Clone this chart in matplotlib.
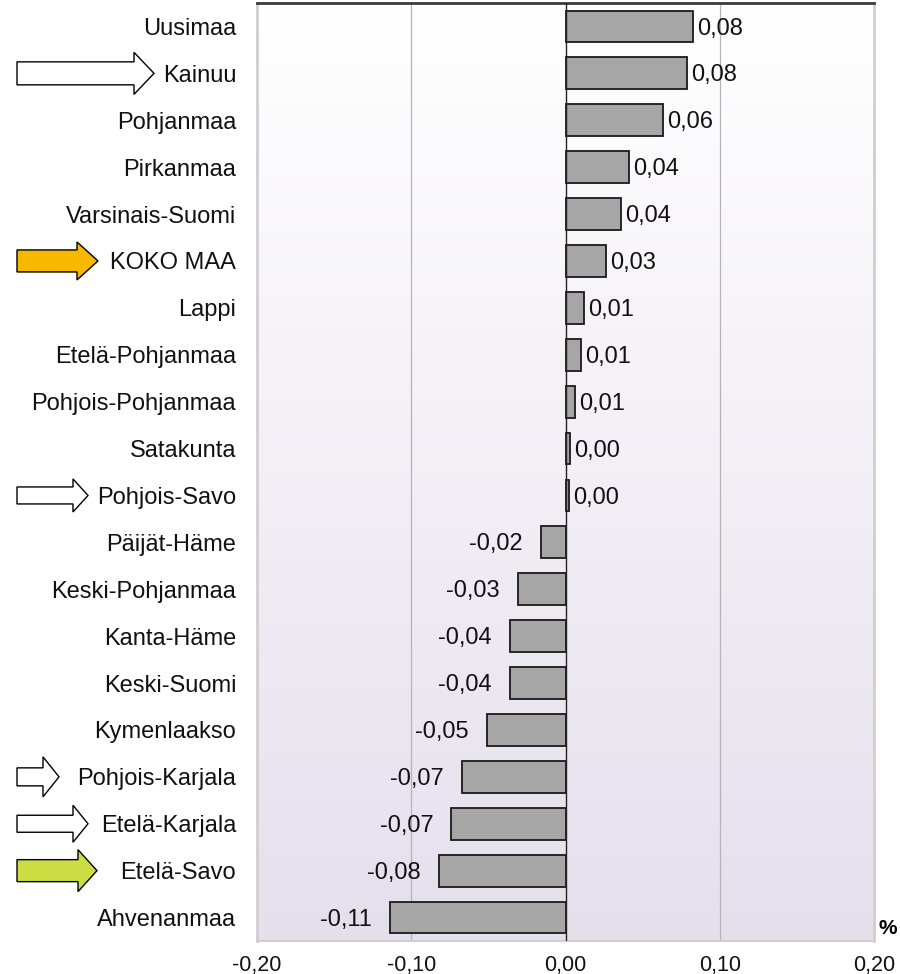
import numpy as np
import matplotlib
matplotlib.use("Agg")
import matplotlib.pyplot as plt
from matplotlib.patches import Polygon

plt.rcParams['font.family'] = ['Liberation Sans', 'DejaVu Sans']

regions = ["Uusimaa", "Kainuu", "Pohjanmaa", "Pirkanmaa", "Varsinais-Suomi",
           "KOKO MAA", "Lappi", "Etelä-Pohjanmaa", "Pohjois-Pohjanmaa", "Satakunta",
           "Pohjois-Savo", "Päijät-Häme", "Keski-Pohjanmaa", "Kanta-Häme", "Keski-Suomi",
           "Kymenlaakso", "Pohjois-Karjala", "Etelä-Karjala", "Etelä-Savo", "Ahvenanmaa"]
values = [0.0825, 0.079, 0.063, 0.041, 0.036,
          0.026, 0.012, 0.010, 0.006, 0.003,
          0.0025, -0.016, -0.031, -0.036, -0.036,
          -0.051, -0.067, -0.074, -0.082, -0.114]
xticks = [-0.20, -0.10, 0.00, 0.10, 0.20]
xtick_labels = ["-0,20", "-0,10", "0,00", "0,10", "0,20"]
# arrows: region -> fill colour
arrow_regions = {"Kainuu": "white", "KOKO MAA": "#f8b800", "Pohjois-Savo": "white",
                 "Pohjois-Karjala": "white", "Etelä-Karjala": "white", "Etelä-Savo": "#ccdd44"}

W, H = 900, 974
fig = plt.figure(figsize=(W / 100, H / 100), dpi=100)
ax = fig.add_axes([257 / W, 1 - 941 / H, (874 - 257) / W, (941 - 3) / H])

n = len(regions)
y = np.arange(n)

# gradient background
grad = np.linspace(0, 1, 256).reshape(-1, 1)
top = np.array([1.0, 1.0, 1.0])
bot = np.array([229, 223, 236]) / 255
img = top + (bot - top) * grad[..., None]
img = img.reshape(256, 1, 3)
ax.imshow(img, extent=[0, 1, 0, 1], transform=ax.transAxes, aspect='auto', zorder=0)

for xv in [-0.10, 0.10]:
    ax.axvline(xv, color='#b4b4b4', lw=0.9, zorder=1)
ax.axvline(0, color='#222222', lw=1.0, zorder=3)

ax.barh(y, values, height=0.68, color='#a6a6a6', edgecolor='#1a1a1a', lw=1.3, zorder=2)

for yi, v in zip(y, values):
    lab = f"{v:.2f}".replace('.', ',')
    if lab == "-0,00":
        lab = "0,00"
    if v >= 0:
        ax.annotate(lab, (v, yi), xytext=(3, -1.5), textcoords='offset points',
                    ha='left', va='center', fontsize=17, color='#111111')
    else:
        ax.annotate(lab, (v, yi), xytext=(-13, -1.5), textcoords='offset points',
                    ha='right', va='center', fontsize=17, color='#111111')

ax.set_xlim(-0.20, 0.20)
ax.set_ylim(n - 0.5, -0.5)
ax.set_xticks(xticks)
ax.set_xticklabels(xtick_labels, fontsize=15.5)
ax.set_yticks(y)
ax.set_yticklabels(regions, fontsize=17)
ax.tick_params(axis='both', length=0, colors='#111111')
ax.tick_params(axis='x', pad=10)
ax.tick_params(axis='y', pad=15)

for s in ['left', 'right', 'bottom']:
    ax.spines[s].set_color('#cfcfcf')
    ax.spines[s].set_linewidth(2)
ax.spines['bottom'].set_linewidth(1.5)
ax.spines['top'].set_color('#3a3a3a')
ax.spines['top'].set_linewidth(2)

fig.text(888 / W, 1 - 928 / H, "%", fontsize=15, fontweight='bold', ha='center', va='center')

# arrows in pixel positions (figure coordinates)
arrow_geom = {
    "Kainuu": (17, 154, 11.5, 21, 20),
    "KOKO MAA": (17, 98, 11, 19, 21),
    "Pohjois-Savo": (17, 88, 8.5, 16.5, 15),
    "Pohjois-Karjala": (17, 59, 9, 20, 16),
    "Etelä-Karjala": (17, 88, 8.5, 18.5, 15),
    "Etelä-Savo": (17, 97, 11, 21, 19),
}
for name, color in arrow_regions.items():
    idx = regions.index(name)
    yc_disp = ax.transData.transform((0, idx))[1]
    x0, x1, bh, hh, hl = arrow_geom[name]
    xb = x1 - hl
    pts = [(x0, -bh), (xb, -bh), (xb, -hh), (x1, 0), (xb, hh), (xb, bh), (x0, bh)]
    pts = [(px / W, (yc_disp + py) / H) for px, py in pts]
    fig.patches.append(Polygon(pts, closed=True, facecolor=color, edgecolor='black',
                               lw=1.0, transform=fig.transFigure, figure=fig))

fig.savefig("out.png", dpi=100)
